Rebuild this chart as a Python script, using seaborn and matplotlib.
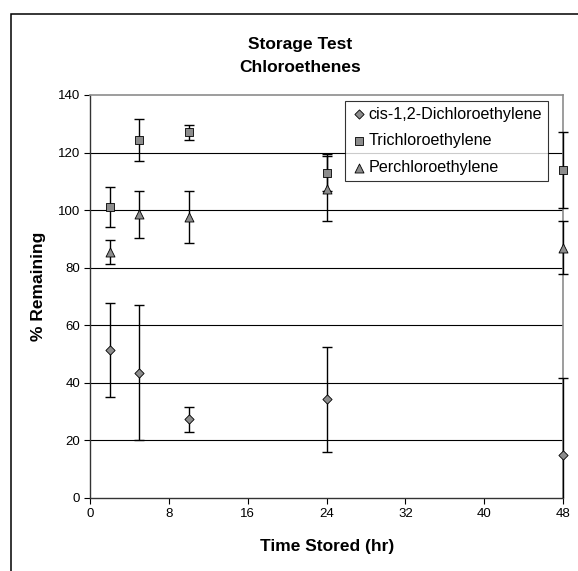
import matplotlib
matplotlib.use("Agg")
import matplotlib.pyplot as plt
import pandas as pd
import seaborn as sns
from matplotlib.patches import Rectangle

# values
hours = [2, 5, 10, 24, 48]
compounds = ["cis-1,2-Dichloroethylene", "Trichloroethylene", "Perchloroethylene"]
dce_mean = [51.5, 43.5, 27.4, 34.3, 15.0]
dce_err = [16.3, 23.4, 4.3, 18.2, 26.7]
tce_mean = [101.0, 124.5, 127.0, 113.0, 114.0]
tce_err = [7.0, 7.3, 2.5, 6.4, 13.2]
pce_mean = [85.5, 98.5, 97.5, 107.5, 87.0]
pce_err = [4.3, 8.3, 9.0, 11.4, 9.2]
x_ticks = [0, 8, 16, 24, 32, 40, 48]
y_ticks = [0, 20, 40, 60, 80, 100, 120, 140]

rows = []
for name, means, errs in zip(compounds, [dce_mean, tce_mean, pce_mean], [dce_err, tce_err, pce_err]):
    for h, m, e in zip(hours, means, errs):
        rows.append({"hours": h, "remaining": m, "err": e, "compound": name})
df = pd.DataFrame(rows)

sns.set_style("white")
plt.rcParams['font.family'] = ['Liberation Sans', 'DejaVu Sans']
plt.rcParams['text.color'] = 'black'
plt.rcParams['xtick.color'] = 'black'
plt.rcParams['ytick.color'] = 'black'
plt.rcParams['axes.labelcolor'] = 'black'

fig = plt.figure(figsize=(5.78, 5.71), dpi=100)
ax = fig.add_axes([90 / 578, 1 - 498 / 571, 473 / 578, 403 / 571])

# chart area frame (runs off the right and bottom edge like the source)
fig.patches.append(Rectangle((10.5 / 578, -0.2), 1.2, 1.2 - 13.5 / 571,
                             transform=fig.transFigure, fill=False,
                             edgecolor="black", linewidth=1.1, zorder=0))

# gridlines
for yv in y_ticks[1:-1]:
    ax.axhline(yv, color="black", linewidth=0.8, zorder=1)

# error bars may stick out sideways past the plot edge but not below zero
clip_box = Rectangle((-0.05, 0), 1.1, 1.05, transform=ax.transAxes)
for name, g in df.groupby("compound", sort=False):
    eb = ax.errorbar(g["hours"], g["remaining"], yerr=g["err"], fmt="none",
                     ecolor="black", elinewidth=1.0, capsize=3.3, capthick=1.0, zorder=3)
    for art in eb.get_children():
        art.set_clip_path(clip_box)

markers = {"cis-1,2-Dichloroethylene": "D", "Trichloroethylene": "s", "Perchloroethylene": "^"}
sizes = {"cis-1,2-Dichloroethylene": 22, "Trichloroethylene": 26, "Perchloroethylene": 42}
for name in compounds:
    g = df[df["compound"] == name]
    sns.scatterplot(data=g, x="hours", y="remaining", marker=markers[name], s=sizes[name],
                    color="#8c8c8c", edgecolor="black", linewidth=0.6, label=name,
                    ax=ax, zorder=4, clip_on=False)

ax.set_xlim(0, 48)
ax.set_ylim(0, 140)
ax.set_xticks(x_ticks)
ax.set_yticks(y_ticks)
ax.tick_params(axis="both", direction="out", length=4, width=0.8, color="black",
               labelsize=9.5, pad=3, bottom=True, left=True)
ax.set_xlabel("")
ax.set_ylabel("")

for side in ["left", "bottom"]:
    ax.spines[side].set_color("#333333")
    ax.spines[side].set_linewidth(1.0)
for side in ["top", "right"]:
    ax.spines[side].set_color("#8c8c8c")
    ax.spines[side].set_linewidth(1.2)

leg = ax.legend(loc="upper right", bbox_to_anchor=(0.968, 0.985), fontsize=11.6,
                frameon=True, fancybox=False, edgecolor="black", borderpad=0.35,
                handletextpad=0.1, handlelength=1.0, labelspacing=0.72, borderaxespad=0)
leg.get_frame().set_linewidth(0.8)
leg.set_zorder(5)

fig.text(300 / 578, 1 - 45 / 571, "Storage Test", ha="center", va="center",
         fontsize=12.5, fontweight="bold")
fig.text(300 / 578, 1 - 68 / 571, "Chloroethenes", ha="center", va="center",
         fontsize=12.5, fontweight="bold")
fig.text(38 / 578, 1 - 286 / 571, "% Remaining", ha="center", va="center",
         rotation=90, fontsize=12.5, fontweight="bold")
fig.text(327 / 578, 1 - 547 / 571, "Time Stored (hr)", ha="center", va="center",
         fontsize=12.5, fontweight="bold")

fig.savefig("out.png", dpi=100)
